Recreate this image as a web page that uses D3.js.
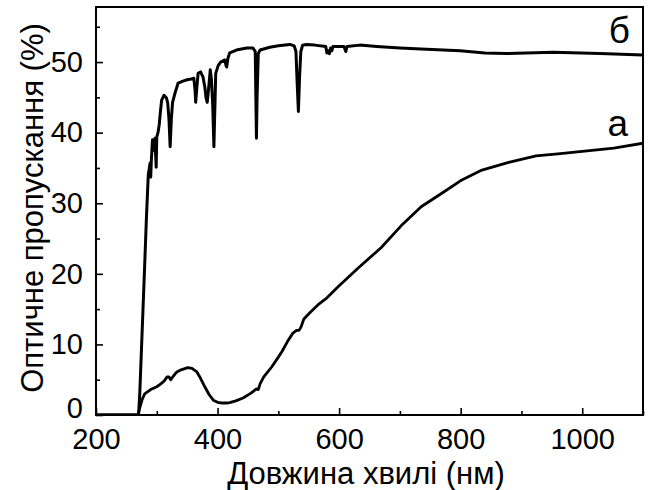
<!DOCTYPE html>
<html>
<head>
<meta charset="utf-8">
<script src="https://cdn.jsdelivr.net/npm/d3@7"></script>
<style>
  html, body { margin: 0; padding: 0; background: #fff; }
  svg text { font-family: "Liberation Sans", Arial, sans-serif; fill: #000; }
</style>
</head>
<body>
<svg id="chart" width="649" height="490"></svg>
<script>
// Curve "а"
const waveA  = [200, 269, 272, 276, 280, 290, 300, 305, 312, 317, 320, 323, 328, 333, 340, 351, 358, 366, 372, 379, 386, 393, 400, 407, 415, 420, 430, 442, 455, 464, 467, 470, 476, 489, 500, 506, 515, 524, 530, 534, 537, 542, 553, 565, 580, 600, 631, 669, 702, 735, 774, 802, 835, 879, 924, 960, 996, 1052, 1100];
const transA = [0, 0, 1.0, 2.2, 3.0, 3.6, 4.0, 4.3, 4.8, 5.4, 5.4, 5.0, 5.6, 6.1, 6.4, 6.7, 6.6, 6.1, 5.2, 4.0, 2.9, 2.1, 1.8, 1.7, 1.7, 1.75, 2.0, 2.4, 3.1, 3.7, 3.6, 4.4, 5.4, 6.8, 8.2, 9.0, 10.4, 11.6, 12.0, 12.0, 12.4, 13.6, 14.6, 15.6, 16.6, 18.3, 20.8, 23.7, 26.8, 29.5, 31.7, 33.3, 34.7, 35.8, 36.7, 37.0, 37.3, 37.8, 38.5];

// Curve "б"
const waveB  = [200, 270, 272, 276, 280, 283, 286, 289, 290, 291, 293, 295, 297, 299, 300, 302, 304, 306, 308, 312, 316, 318, 320, 322, 324, 326, 330, 335, 343, 350, 357, 361, 363, 364, 366, 368, 372, 376, 379, 381, 383, 385, 388, 390, 392, 394, 396, 397, 401, 405, 412, 414, 415, 417, 420, 431, 448, 458, 462, 463, 464, 465, 467, 470, 486, 500, 519, 526, 529, 531, 533, 535, 537, 540, 546, 560, 578, 580, 582, 584, 586, 588, 590, 608, 611, 613, 634, 662, 700, 744, 799, 840, 875, 952, 1029, 1100];
const transB = [0, 0, 3, 12, 21, 28, 34, 35.7, 33.7, 36, 39.0, 37.5, 39.2, 35.1, 39.4, 40, 41.1, 43, 44.6, 45.3, 44.9, 44.2, 42, 38.0, 42, 44.3, 45.6, 47.0, 47.3, 47.5, 47.6, 47.7, 46, 44.3, 46.5, 48.4, 48.6, 47.9, 46.5, 45.0, 44.3, 46, 48.9, 47.5, 44, 38.0, 45, 48.4, 49.5, 50.0, 50.3, 49.5, 49.3, 50.5, 51.3, 51.7, 52.0, 52.0, 51.5, 45, 39.2, 45, 51.2, 51.7, 52.1, 52.3, 52.5, 52.3, 51.5, 47, 43.0, 48, 51.5, 52.4, 52.5, 52.4, 52.2, 51.3, 51.6, 51.2, 52.0, 51.6, 52.2, 52.2, 51.5, 52.2, 52.4, 52.2, 52.0, 51.8, 51.6, 51.3, 51.2, 51.4, 51.2, 51.0];

const xMajorTicks = [200, 400, 600, 800, 1000];
const xMinorTicks = [300, 500, 700, 900, 1100];
const yMajorTicks = [0, 10, 20, 30, 40, 50];
const yMinorTicks = [5, 15, 25, 35, 45, 55];
const xTitle = "Довжина хвилі (нм)";
const yTitle = "Оптичне пропускання (%)";
const seriesLabels = ["б", "а"];

const svg = d3.select("#chart");
const L = 96, R = 643, T = 7, B = 415;

const x = d3.scaleLinear().domain([200, 1100]).range([L, R]);
const y = d3.scaleLinear().domain([0, 57.8]).range([B, T]);

// axes with inward ticks
const xAxis = svg.append("g").attr("transform", `translate(0,${B})`)
  .call(d3.axisBottom(x).tickValues(xMajorTicks).tickSizeInner(-7).tickSizeOuter(0).tickPadding(14).tickFormat(d3.format("d")));
svg.append("g").attr("transform", `translate(0,${B})`)
  .call(d3.axisBottom(x).tickValues(xMinorTicks).tickSizeInner(-4).tickSizeOuter(0).tickFormat(""))
  .select(".domain").remove();
const yAxis = svg.append("g").attr("transform", `translate(${L},0)`)
  .call(d3.axisLeft(y).tickValues(yMajorTicks).tickSizeInner(-7).tickSizeOuter(0).tickPadding(13).tickFormat(d3.format("d")));
svg.append("g").attr("transform", `translate(${L},0)`)
  .call(d3.axisLeft(y).tickValues(yMinorTicks).tickSizeInner(-4).tickSizeOuter(0).tickFormat(""))
  .select(".domain").remove();

svg.selectAll(".tick line").attr("stroke", "#000").attr("stroke-width", 1.6);
svg.selectAll(".domain").remove();
xAxis.selectAll("text").attr("font-size", 29).attr("dy", "0.68em");
yAxis.selectAll("text").attr("font-size", 29)
  .attr("dy", d => d === 0 ? "0.1em" : "0.32em");

// frame
svg.append("rect").attr("x", L).attr("y", T).attr("width", R - L).attr("height", B - T)
  .attr("fill", "none").attr("stroke", "#000").attr("stroke-width", 2);

// curves
svg.append("clipPath").attr("id", "clip").append("rect")
  .attr("x", L).attr("y", T).attr("width", R - L).attr("height", B - T);

const line = d3.line().x(d => x(d[0])).y(d => y(d[1]));
const dataA = waveA.map((w, i) => [w, transA[i]]);
const dataB = waveB.map((w, i) => [w, transB[i]]);

svg.append("path").datum(dataA).attr("d", line)
  .attr("fill", "none").attr("stroke", "#000").attr("stroke-width", 2.8)
  .attr("stroke-linejoin", "round").attr("clip-path", "url(#clip)");
svg.append("path").datum(dataB).attr("d", line)
  .attr("fill", "none").attr("stroke", "#000").attr("stroke-width", 3)
  .attr("stroke-linejoin", "round").attr("clip-path", "url(#clip)");

// series labels
svg.append("text").attr("x", 630).attr("y", y(51.8) - 6).attr("text-anchor", "end")
  .attr("font-size", 37).text(seriesLabels[0]);
svg.append("text").attr("x", 628).attr("y", y(38.3) - 9).attr("text-anchor", "end")
  .attr("font-size", 37).text(seriesLabels[1]);

// titles
svg.append("text").attr("x", 366).attr("y", 483.5).attr("text-anchor", "middle")
  .attr("font-size", 31).text(xTitle);
svg.append("text").attr("transform", `translate(43,208) rotate(-90)`)
  .attr("text-anchor", "middle").attr("font-size", 31).text(yTitle);
</script>
</body>
</html>
